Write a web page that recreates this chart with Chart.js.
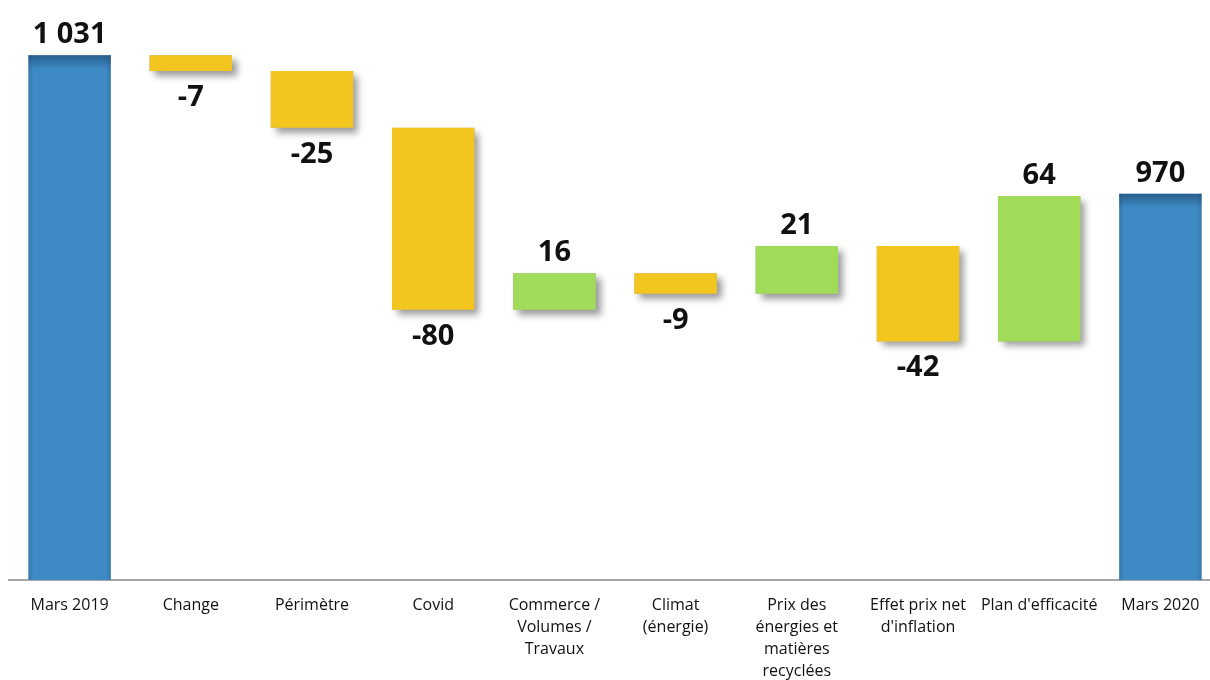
<!DOCTYPE html>
<html><head><meta charset="utf-8">
<script src="https://cdn.jsdelivr.net/npm/chart.js@4"></script>
<style>html,body{margin:0;padding:0;background:#fff;overflow:hidden;}#wrap{width:1210px;height:680px;overflow:hidden;}</style>
</head><body><div id="wrap"><canvas id="c" width="1221" height="680"></canvas></div>
<script>
const categories = [["Mars 2019"],["Change"],["Périmètre"],["Covid"],["Commerce /","Volumes /","Travaux"],["Climat","(énergie)"],["Prix des","énergies et","matières","recyclées"],["Effet prix net","d'inflation"],["Plan d'efficacité"],["Mars 2020"]];
const startTotal = 1031;
const endTotal = 970;
const deltas = [-7, -25, -80, 16, -9, 21, -42, 64];
const yMin = 800, yMax = 1050;

// build floating ranges
const ranges = [[0, startTotal]];
const kinds = ['total'];
let run = startTotal;
deltas.forEach(d => { ranges.push([run, run + d]); kinds.push(d < 0 ? 'neg' : 'pos'); run += d; });
ranges.push([0, endTotal]); kinds.push('total');
const labelsTxt = [startTotal, ...deltas, endTotal].map(v => (Math.abs(v) >= 1000 ? (v<0?'-':'') + Math.floor(Math.abs(v)/1000) + ' ' + String(Math.abs(v)%1000).padStart(3,'0') : String(v)));
const colors = { neg: '#f3c51f', pos: '#a0dc5a', total: '#3d8ac4' };

const shadowPlugin = {
  id: 'shadow',
  beforeDatasetDraw(chart){
    const ctx = chart.ctx; const meta = chart.getDatasetMeta(0);
    ctx.save();
    meta.data.forEach((el, i) => {
      if (kinds[i] === 'total') return;
      const x = el.x - el.width/2, top = Math.min(el.y, el.base), h = Math.abs(el.base - el.y);
      ctx.shadowColor = 'rgba(0,0,0,0.4)'; ctx.shadowBlur = 7; ctx.shadowOffsetX = 5; ctx.shadowOffsetY = 5;
      ctx.fillStyle = '#aaa';
      ctx.fillRect(x, top, el.width, h);
    });
    ctx.restore();
  },
  afterDatasetDraw(chart){
    const ctx = chart.ctx; const meta = chart.getDatasetMeta(0); const ca = chart.chartArea;
    ctx.save();
    meta.data.forEach((el, i) => {
      if (kinds[i] !== 'total') return;
      const x = el.x - el.width/2, top = el.y, bottom = ca.bottom;
      let g = ctx.createLinearGradient(0, top, 0, top + 14);
      g.addColorStop(0, 'rgba(25,60,95,0.55)'); g.addColorStop(1, 'rgba(25,60,95,0)');
      ctx.fillStyle = g; ctx.fillRect(x, top, el.width, 14);
      g = ctx.createLinearGradient(x, 0, x + 5, 0);
      g.addColorStop(0, 'rgba(25,60,95,0.25)'); g.addColorStop(1, 'rgba(25,60,95,0)');
      ctx.fillStyle = g; ctx.fillRect(x, top, 5, bottom - top);
      g = ctx.createLinearGradient(x + el.width, 0, x + el.width - 5, 0);
      g.addColorStop(0, 'rgba(25,60,95,0.25)'); g.addColorStop(1, 'rgba(25,60,95,0)');
      ctx.fillStyle = g; ctx.fillRect(x + el.width - 5, top, 5, bottom - top);
    });
    ctx.restore();
  }
};
const valuePlugin = {
  id: 'vals',
  afterDatasetsDraw(chart){
    const ctx = chart.ctx; const meta = chart.getDatasetMeta(0);
    ctx.save();
    ctx.font = 'bold 29px "Open Sans", sans-serif';
    ctx.fillStyle = '#111'; ctx.textAlign = 'center'; ctx.textBaseline = 'alphabetic';
    meta.data.forEach((el, i) => {
      const top = Math.min(el.y, el.base), bot = Math.max(el.y, el.base);
      if (kinds[i] === 'neg') ctx.fillText(labelsTxt[i], el.x, bot + 35);
      else ctx.fillText(labelsTxt[i], el.x, (kinds[i]==='total'? el.y : top) - 12);
    });
    ctx.restore();
  }
};

new Chart(document.getElementById('c'), {
  type: 'bar',
  data: { labels: categories, datasets: [{ data: ranges, backgroundColor: kinds.map(k => colors[k]), borderWidth: 0, categoryPercentage: 1, barPercentage: 0.68 }] },
  options: {
    responsive: false, animation: false, devicePixelRatio: 1,
    layout: { padding: { left: 9, right: 0, top: 12, bottom: 0 } },
    plugins: { legend: { display: false }, tooltip: { enabled: false } },
    scales: {
      y: { display: false, min: yMin, max: yMax },
      x: {
        grid: { display: false, drawTicks: false },
        border: { display: true, color: '#a6a6a6', width: 2 },
        ticks: { color: '#111', font: { family: '"Open Sans", sans-serif', size: 16, lineHeight: 1.375 }, padding: 14, maxRotation: 0, autoSkip: false },
        afterFit(s){ s.height = 100; }
      }
    }
  },
  plugins: [shadowPlugin, valuePlugin]
});
</script></body></html>
